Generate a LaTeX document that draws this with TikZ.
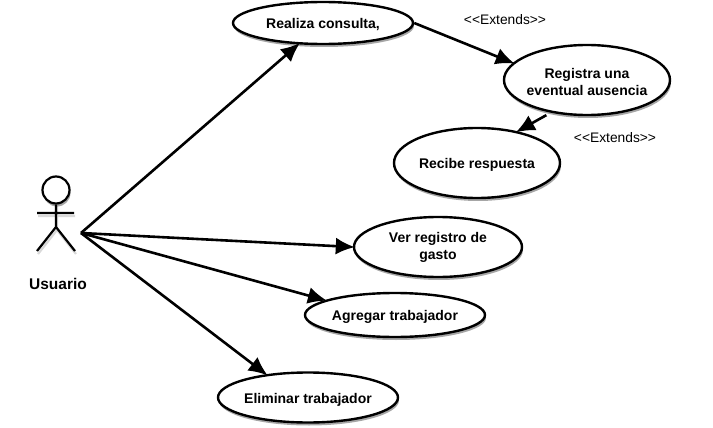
\documentclass[tikz,border=0pt]{standalone}
\usepackage{fontspec}
\setmainfont{Liberation Sans}
\usetikzlibrary{shapes.geometric,shadows,arrows.meta}

\begin{document}
\begin{tikzpicture}[x=1pt,y=-1pt,
	sombra/.style={drop shadow={shadow xshift=1pt,shadow yshift=-3pt,opacity=.35,fill=black}},
	caso/.style={ellipse,draw,line width=2.4pt,fill=white,inner sep=-8pt,align=center,font=\fontsize{14}{17}\selectfont\bfseries,sombra},
	unalinea/.style={text height=13pt,text depth=2pt},
	flecha/.style={draw,black,line width=2.6pt,shorten >=-2pt,-{Latex[length=19pt,width=17pt]}},
	actor/.style={draw,line width=2.2pt},
	nota/.style={font=\fontsize{13.8}{16}\selectfont}]

	\useasboundingbox (0,0) rectangle (713,428);

	% actor
	\draw[actor,black!25,xshift=1pt,yshift=-3pt,opacity=.6] (37,213) -- (74,213) (56,203) -- (56,227) (37,251) -- (56,227) -- (75,251);
	\node[circle,draw,line width=2.2pt,fill=white,minimum size=27pt,inner sep=0pt,sombra] (head) at (56,190) {};
	\draw[actor] (head.south) -- (56,227) (37,213) -- (74,213) (37,251) -- (56,227) -- (75,251);
	\node[font=\fontsize{15.5}{18}\selectfont\bfseries] (usuario) at (58,284) {Usuario};
	\coordinate (mano) at (81,233);

	% casos de uso
	\node[caso,unalinea,minimum width=180pt,minimum height=42pt] (realiza) at (323,23) {Realiza consulta,};
	\node[caso,minimum width=166pt,minimum height=70pt] (registra) at (587,80) {\rule{0pt}{15pt}Registra una\\eventual ausencia};
	\node[caso,unalinea,minimum width=166pt,minimum height=70pt] (recibe) at (477,163) {Recibe respuesta};
	\node[caso,minimum width=168pt,minimum height=60pt] (ver) at (438,247) {Ver registro de\\gasto};
	\node[caso,unalinea,minimum width=180pt,minimum height=44pt] (agregar) at (395,315) {Agregar trabajador};
	\node[caso,unalinea,minimum width=180pt,minimum height=50pt] (eliminar) at (308,397.5) {Eliminar trabajador};

	\draw[flecha] (mano) -- (realiza);
	\draw[flecha] (mano) -- (ver.west);
	\draw[flecha] (mano) -- (agregar.168);
	\draw[flecha] (mano) -- (eliminar.151);
	\draw[flecha] (realiza.east) -- (registra.167);
	\draw[flecha,shorten <=5pt] (registra.222) -- (recibe.38);

	\node[nota] (ext1) at (505,20) {{<}{<}Extends{>}{>}};
	\node[nota] (ext2) at (615,138) {{<}{<}Extends{>}{>}};
\end{tikzpicture}
\end{document}
